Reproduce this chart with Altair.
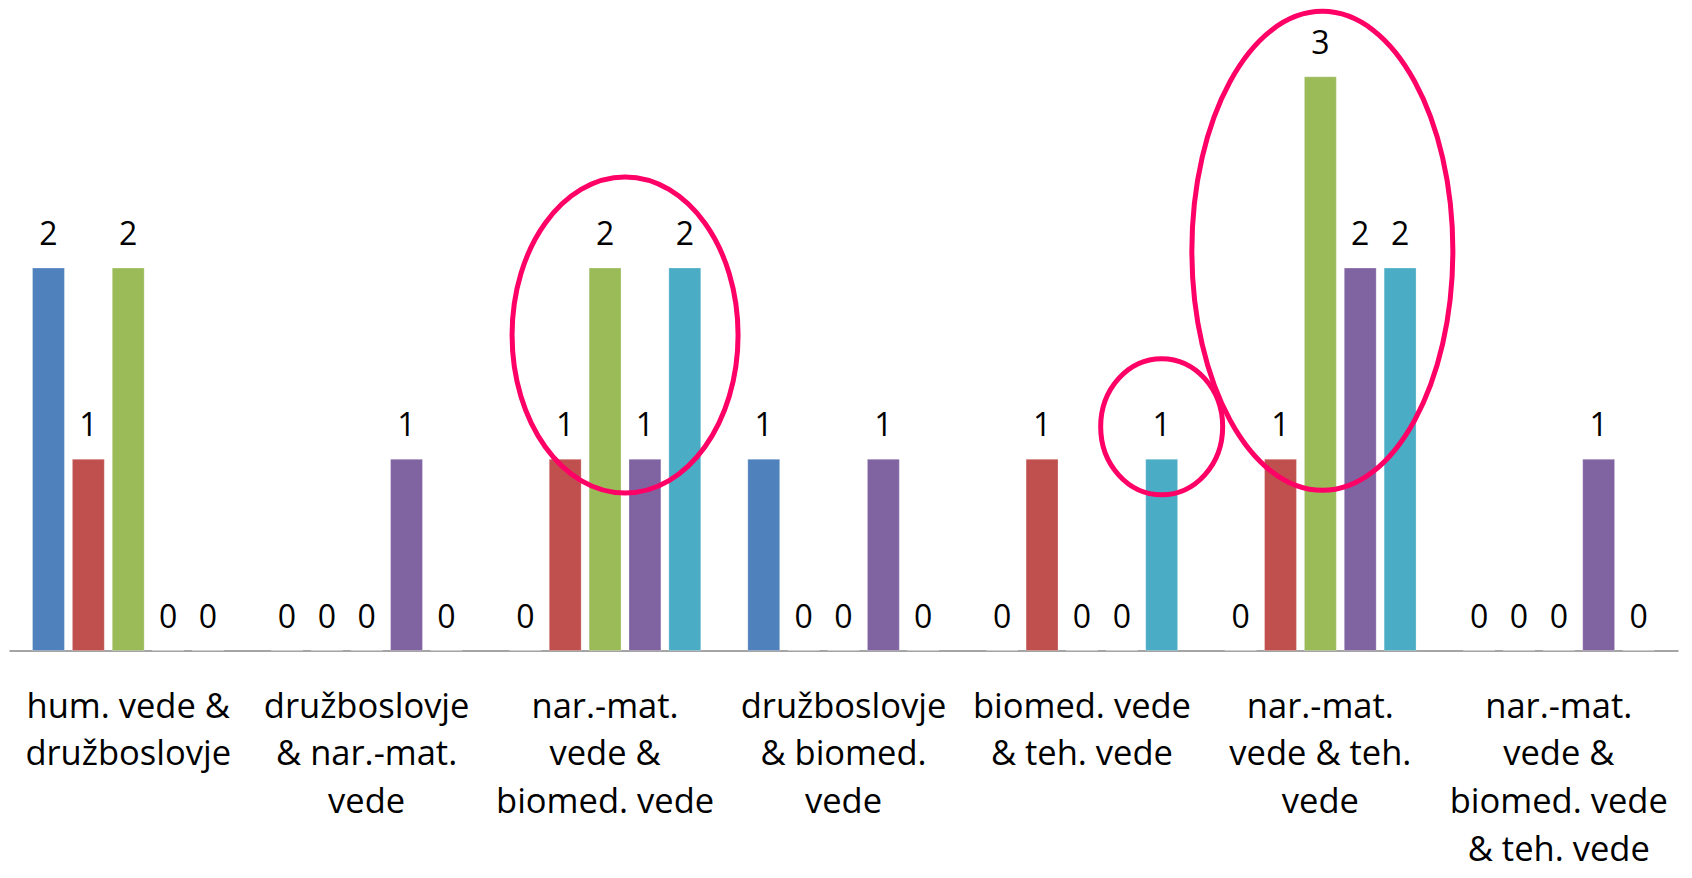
import altair as alt
import pandas as pd

# Categories (line breaks as shown on the axis)
categories = [
    "hum. vede &\ndružboslovje",
    "družboslovje\n& nar.-mat.\nvede",
    "nar.-mat.\nvede &\nbiomed. vede",
    "družboslovje\n& biomed.\nvede",
    "biomed. vede\n& teh. vede",
    "nar.-mat.\nvede & teh.\nvede",
    "nar.-mat.\nvede &\nbiomed. vede\n& teh. vede",
]
series = ["S1", "S2", "S3", "S4", "S5"]
colors = ["#4F81BD", "#C0504D", "#9BBB59", "#8064A2", "#4BACC6"]

s1 = [2, 0, 0, 1, 0, 0, 0]
s2 = [1, 0, 1, 0, 1, 1, 0]
s3 = [2, 0, 2, 0, 0, 3, 0]
s4 = [0, 1, 1, 1, 0, 2, 1]
s5 = [0, 0, 2, 0, 1, 2, 0]
values = [s1, s2, s3, s4, s5]

# Highlight ellipses (annotation): category index, series, centre value, width/height in px
ell_cat = [2, 4, 5]
ell_series = ["S3", "S5", "S3"]
ell_y = [1.65, 1.17, 2.09]
ell_w = [226, 122, 261]
ell_h = [316, 136, 479]
ell_shift = [20, 0, 2]

rows = []
for si, s in enumerate(series):
    for ci, c in enumerate(categories):
        rows.append({"cat": c, "series": s, "value": values[si][ci]})
df = pd.DataFrame(rows)

UNIT_TOP = 3.36
x_enc = alt.X("cat:N", sort=categories,
              scale=alt.Scale(paddingInner=0, paddingOuter=0),
              axis=alt.Axis(title=None, domainColor="#868686", domainWidth=1.5,
                            ticks=False, labelPadding=66.5, labelBaseline="alphabetic",
                            labelFont="Open Sans", labelFontSize=34.5, labelColor="#000000",
                            labelLineHeight=47.7, labelAngle=0, labelLimit=0,
                            labelOverlap=False, labelFlush=False,
                            labelExpr="split(datum.label, '\\n')"))
xo_enc = alt.XOffset("series:N", sort=series,
                     scale=alt.Scale(paddingInner=0.2, paddingOuter=0.59))
y_enc = alt.Y("value:Q", scale=alt.Scale(domain=[0, UNIT_TOP], nice=False, zero=True), axis=None)

base = alt.Chart(df).encode(x=x_enc, xOffset=xo_enc, y=y_enc)

bars = base.mark_bar(stroke="#ffffff", strokeWidth=0.5, strokeOpacity=0.5).encode(
    color=alt.Color("series:N", sort=series, scale=alt.Scale(domain=series, range=colors), legend=None)
)
labels = base.mark_text(baseline="alphabetic", dy=-23, font="Open Sans", fontSize=32,
                        color="#000000").encode(text=alt.Text("value:Q"))

layers = [bars, labels]


def ellipse_path(rx, cx):
    k = 0.5523
    return (f"M {cx+rx} 0 C {cx+rx} {k} {cx+rx*k} 1 {cx} 1 C {cx-rx*k} 1 {cx-rx} {k} {cx-rx} 0 "
            f"C {cx-rx} {-k} {cx-rx*k} -1 {cx} -1 C {cx+rx*k} -1 {cx+rx} {-k} {cx+rx} 0 Z")


for i in range(len(ell_cat)):
    edf = pd.DataFrame([{"cat": categories[ell_cat[i]], "series": ell_series[i], "value": ell_y[i]}])
    half = ell_h[i] / 2
    layers.append(
        alt.Chart(edf).mark_point(
            shape=ellipse_path(ell_w[i] / ell_h[i], ell_shift[i] / half), size=ell_h[i] ** 2,
            filled=False, stroke="#FF0066", strokeWidth=5, opacity=1
        ).encode(x=x_enc, xOffset=xo_enc, y=y_enc)
    )

chart = alt.layer(*layers).properties(
    width=1669, height=642.5,
    autosize=alt.AutoSizeParams(type="none"),
    padding={"left": 1, "top": 0, "right": 5, "bottom": 219.5},
).configure_view(stroke=None)

chart.save("out.html", embed_options={"renderer": "svg", "actions": False})
